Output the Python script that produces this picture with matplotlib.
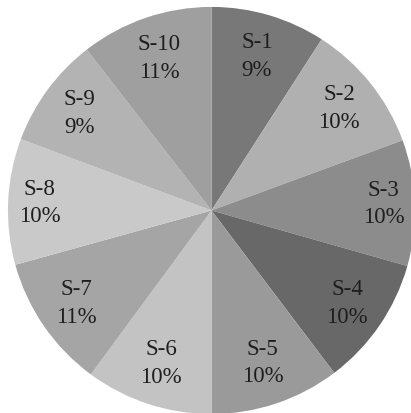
import numpy as np
import matplotlib.pyplot as plt

names = ['S-1', 'S-2', 'S-3', 'S-4', 'S-5', 'S-6', 'S-7', 'S-8', 'S-9', 'S-10']
# wedge sizes as measured from the slice angles; printed labels are rounded
shares = [9.1, 10.3, 10.0, 10.3, 10.3, 10.1, 10.6, 10.0, 8.8, 10.5]
pct_text = [9, 10, 10, 10, 10, 10, 11, 10, 9, 11]
greys = ['#787878', '#b0b0b0', '#8c8c8c', '#686868', '#9a9a9a',
         '#c3c3c3', '#a5a5a5', '#c9c9c9', '#b3b3b3', '#9f9f9f']

labels = [f'{n}\n{p}%' for n, p in zip(names, pct_text)]

fig = plt.figure(figsize=(4.11, 4.13), dpi=100)
ax = fig.add_axes([0, 0, 1, 1])

wedges, texts = ax.pie(shares, labels=labels, colors=greys,
                       startangle=90, counterclock=False,
                       labeldistance=0.79,
                       wedgeprops=dict(linewidth=0),
                       textprops=dict(family='Liberation Serif', fontsize=16.5,
                                      color='#1e1e1e', linespacing=1.42))
for t in texts:
    t.set_horizontalalignment('center')
    t.set_verticalalignment('center')
    # labels near the horizontal sit a bit further out
    x, y = t.get_position()
    c = abs(np.cos(np.arctan2(y, x)))
    k = 1 + 0.07 * c ** 6
    t.set_position((x * k, y * k))

# circle slightly cropped on right and bottom like the source
ax.set_xlim(-1.039, 0.980)
ax.set_ylim(-0.995, 1.034)
ax.set_aspect('auto')
ax.axis('off')

fig.savefig('out.png', dpi=100)
